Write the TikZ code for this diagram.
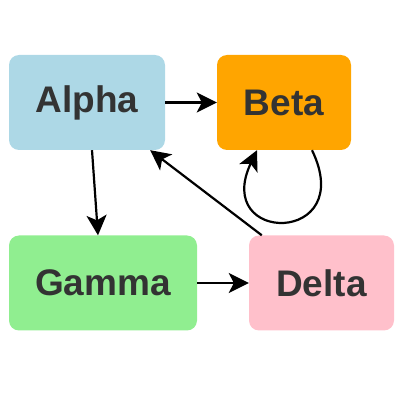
\documentclass[tikz,border=0pt]{standalone}
\usepackage{fontspec}
\setmainfont{Liberation Sans}
\usetikzlibrary{arrows.meta}
\definecolor{nodetext}{HTML}{333333}
\definecolor{alphablue}{HTML}{ADD8E6}
\definecolor{betaorange}{HTML}{FFA500}
\definecolor{gammagreen}{HTML}{90EE90}
\definecolor{deltapink}{HTML}{FFC0CB}
\begin{document}
\begin{tikzpicture}[x=1pt, y=1pt,
  every node/.style={rounded corners=10pt, minimum height=95pt, inner sep=0pt, text=nodetext, font=\fontsize{37}{40}\selectfont\bfseries},
  link/.style={line width=2.2pt, -{Stealth[length=20pt, width=20pt, inset=5pt]}}]
\useasboundingbox (0,0) rectangle (400,400);
\node[fill=alphablue, minimum width=156pt] (NA) at (87,297.5) {Alpha};
\node[fill=betaorange, minimum width=134pt] (NB) at (284,297.5) {Beta};
\node[fill=gammagreen, minimum width=188pt] (NG) at (103,117) {Gamma};
\node[fill=deltapink, minimum width=145pt] (ND) at (321.5,117) {Delta};

\draw[link] (NA.east) -- (NB.west);
\draw[link] ([xshift=5pt]NA.south) -- ([xshift=-5pt]NG.north);
\draw[link] (NG.east) -- (ND.west);
\draw[link] ([xshift=13pt]ND.north west) -- ([xshift=-15pt]NA.south east);
\draw[link] ([xshift=28pt]NB.south) .. controls (358,155) and (212,155) .. ([xshift=-27pt]NB.south);
\end{tikzpicture}
\end{document}
